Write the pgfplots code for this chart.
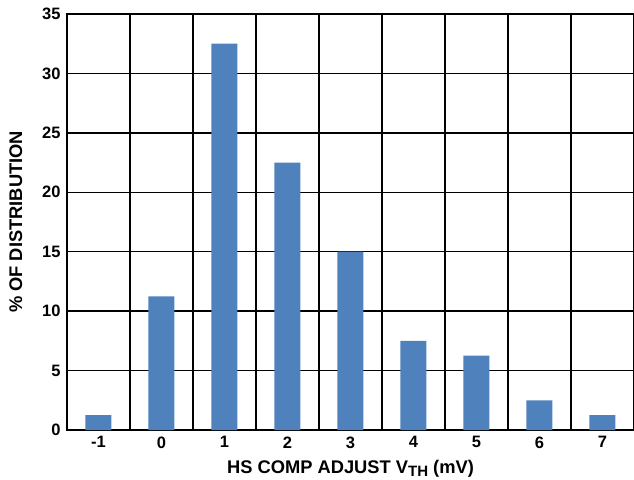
\documentclass[border=0pt]{standalone}
\usepackage{fontspec}
\setmainfont{Liberation Sans}
\usepackage{pgfplots}
\pgfplotsset{compat=1.18}
\definecolor{barblue}{RGB}{79,129,189}
\begin{document}
\begin{tikzpicture}
\begin{axis}[
  scale only axis,
  width=567bp, height=416bp,
  xmin=-1.5, xmax=7.5, ymin=0, ymax=35,
  xtick={-1,0,...,7},
  minor xtick={-0.5,0.5,...,6.5},
  ytick={0,5,...,35},
  ymajorgrids, xminorgrids,
  grid style={black, line width=1.5pt},
  minor grid style={black, line width=1.5pt},
  axis line style={black, line width=1.5pt},
  major tick length=0pt, minor tick length=0pt,
  tick style={draw=none},
  /pgf/number format/assume math mode=true,
  ticklabel style={font=\fontsize{16.5bp}{19bp}\selectfont\bfseries},
  label style={font=\fontsize{18.3bp}{21bp}\selectfont\bfseries},
  xlabel={HS COMP ADJUST V{\fontsize{15bp}{17bp}\selectfont\raisebox{-0.35ex}{TH}} (mV)},
  ylabel={\% OF DISTRIBUTION},
  xlabel style={yshift=-5pt},
  ylabel style={yshift=13pt},
  xticklabel style={yshift=-3pt},
  yticklabel style={xshift=-3pt},
]
\addplot[ybar, bar width=26bp, fill=barblue, draw=none] coordinates {
  (-1,1.25) (0,11.25) (1,32.5) (2,22.5) (3,15) (4,7.5) (5,6.25) (6,2.5) (7,1.25)
};
\end{axis}
\pgfresetboundingbox
\path (-67bp,-50bp) rectangle (567bp,430bp);
\end{tikzpicture}
\end{document}
